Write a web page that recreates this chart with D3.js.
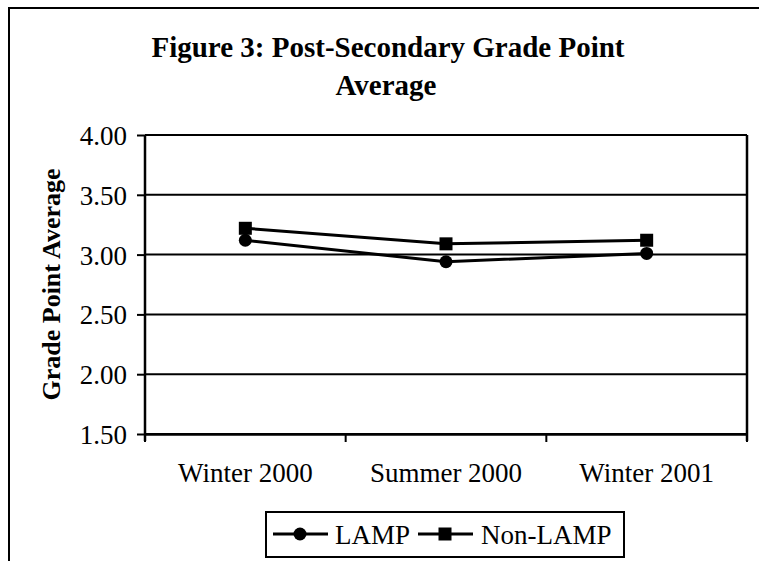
<!DOCTYPE html>
<html>
<head>
  <script src="https://d3js.org/d3.v7.min.js"></script>
  <style>
    body { margin: 0; background: #fff; }
    text { font-family: 'Liberation Serif', 'Times New Roman', serif; fill: #000; }
    .title { font-size: 29px; font-weight: bold; text-anchor: middle; }
    .ylabel { font-size: 26px; font-weight: bold; text-anchor: middle; }
    .tick-label { font-size: 27px; }
  </style>
</head>
<body>
  <svg id="chart" width="759" height="561"></svg>
  <script>
    // data
    const categories = ["Winter 2000", "Summer 2000", "Winter 2001"];
    const lampValues = [3.12, 2.94, 3.01];
    const nonLampValues = [3.22, 3.09, 3.12];
    const yTicks = [1.5, 2.0, 2.5, 3.0, 3.5, 4.0];
    const seriesNames = ["LAMP", "Non-LAMP"];

    const svg = d3.select("#chart");
    const margin = { left: 145, right: 747, top: 135, bottom: 434 };

    const x = d3.scaleBand().domain(categories).range([margin.left, margin.right]);
    const y = d3.scaleLinear().domain([1.5, 4.0]).range([margin.bottom, margin.top]);

    // outer frame (only left and top edges visible in the scan)
    svg.append("path")
      .attr("d", "M9,561 L9,8 L759,8")
      .attr("fill", "none")
      .attr("stroke", "#000")
      .attr("stroke-width", 2);

    // title
    svg.append("text").attr("class", "title")
      .attr("x", 388).attr("y", 57)
      .text("Figure 3: Post-Secondary Grade Point");
    svg.append("text").attr("class", "title")
      .attr("x", 386).attr("y", 95)
      .text("Average");

    // gridlines
    svg.append("g")
      .selectAll("line")
      .data(yTicks)
      .enter()
      .append("line")
      .attr("x1", margin.left)
      .attr("x2", margin.right)
      .attr("y1", d => y(d))
      .attr("y2", d => y(d))
      .attr("stroke", "#000")
      .attr("stroke-width", 2);

    // y axis
    const yAxis = svg.append("g")
      .attr("transform", `translate(${margin.left},0)`)
      .call(d3.axisLeft(y).tickValues(yTicks).tickFormat(d3.format(".2f")).tickSize(8).tickPadding(10));
    yAxis.select(".domain").attr("stroke", "#000").attr("stroke-width", 2.5).attr("d", `M0,${margin.top}V${margin.bottom + 7}`);
    yAxis.selectAll(".tick line").attr("stroke", "#000").attr("stroke-width", 2);
    yAxis.selectAll(".tick text").attr("class", "tick-label").attr("font-size", null).attr("font-family", null).attr("dy", "0.35em");

    // right border
    svg.append("line")
      .attr("x1", margin.right).attr("x2", margin.right)
      .attr("y1", margin.top).attr("y2", margin.bottom + 7)
      .attr("stroke", "#000").attr("stroke-width", 2.5);

    // x axis labels
    const xAxis = svg.append("g")
      .attr("transform", `translate(0,${margin.bottom})`)
      .call(d3.axisBottom(x).tickSize(0).tickPadding(29));
    xAxis.select(".domain").attr("stroke", "#000").attr("stroke-width", 2.5);
    xAxis.selectAll(".tick text").attr("class", "tick-label").attr("font-size", null).attr("font-family", null);

    // x tick marks at band boundaries
    const boundaries = categories.map(c => x(c)).concat([x.range()[1]]);
    svg.append("g")
      .selectAll("line")
      .data(boundaries)
      .enter()
      .append("line")
      .attr("x1", d => d).attr("x2", d => d)
      .attr("y1", margin.bottom).attr("y2", margin.bottom + 8)
      .attr("stroke", "#000").attr("stroke-width", 2);

    // y label
    svg.append("text").attr("class", "ylabel")
      .attr("transform", `translate(60,${(margin.top + margin.bottom) / 2}) rotate(-90)`)
      .text("Grade Point Average");

    // series
    const line = d3.line()
      .x((d, i) => x(categories[i]) + x.bandwidth() / 2)
      .y(d => y(d));

    [lampValues, nonLampValues].forEach(vals => {
      svg.append("path")
        .datum(vals)
        .attr("d", line)
        .attr("fill", "none")
        .attr("stroke", "#000")
        .attr("stroke-width", 3);
    });

    svg.append("g").selectAll("circle")
      .data(lampValues)
      .enter()
      .append("circle")
      .attr("cx", (d, i) => x(categories[i]) + x.bandwidth() / 2)
      .attr("cy", d => y(d))
      .attr("r", 6.5)
      .attr("fill", "#000");

    svg.append("g").selectAll("rect")
      .data(nonLampValues)
      .enter()
      .append("rect")
      .attr("x", (d, i) => x(categories[i]) + x.bandwidth() / 2 - 6.5)
      .attr("y", d => y(d) - 6.5)
      .attr("width", 13)
      .attr("height", 13)
      .attr("fill", "#000");

    // legend, centred under the plot area
    const legend = svg.append("g");
    legend.append("rect")
      .attr("x", 266).attr("y", 512)
      .attr("width", 358).attr("height", 45)
      .attr("fill", "#fff")
      .attr("stroke", "#000")
      .attr("stroke-width", 2);

    const legendItems = [
      { name: seriesNames[0], x0: 273, marker: "circle", tx: 335 },
      { name: seriesNames[1], x0: 418, marker: "square", tx: 481 }
    ];
    const ly = 534;
    legendItems.forEach(item => {
      legend.append("line")
        .attr("x1", item.x0).attr("x2", item.x0 + 55)
        .attr("y1", ly).attr("y2", ly)
        .attr("stroke", "#000").attr("stroke-width", 3);
      if (item.marker === "circle") {
        legend.append("circle")
          .attr("cx", item.x0 + 27).attr("cy", ly).attr("r", 6.5).attr("fill", "#000");
      } else {
        legend.append("rect")
          .attr("x", item.x0 + 27 - 6.5).attr("y", ly - 6.5)
          .attr("width", 13).attr("height", 13).attr("fill", "#000");
      }
      legend.append("text")
        .attr("class", "tick-label")
        .attr("x", item.tx).attr("y", ly + 10)
        .text(item.name);
    });
  </script>
</body>
</html>
